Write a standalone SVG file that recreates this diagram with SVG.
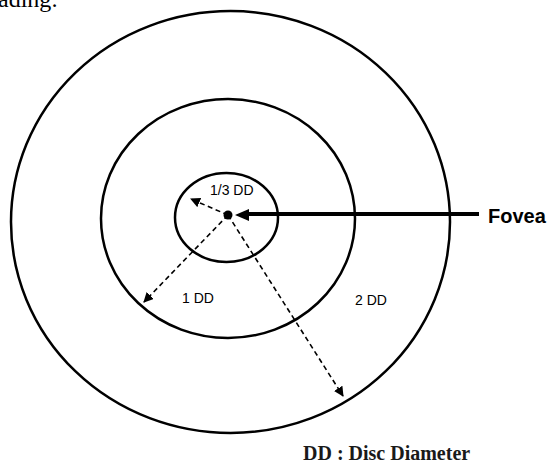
<svg xmlns="http://www.w3.org/2000/svg" width="547" height="465" viewBox="0 0 547 465">
<style>
.ring{fill:none;stroke:#000;stroke-width:2.5}
.dash{fill:none;stroke:#000;stroke-width:1.6;stroke-dasharray:5 3.5}
.lbl{font-family:"Liberation Sans",Arial,sans-serif;font-size:14px;fill:#000}
</style>
<defs>
<marker id="ah" viewBox="0 0 10 10" refX="9" refY="5" markerWidth="10" markerHeight="10" markerUnits="userSpaceOnUse" orient="auto">
<path d="M0,0 L10,5 L0,10 Z" fill="#000"/>
</marker>
</defs>
<rect width="547" height="465" fill="#fff"/>
<text x="-2" y="7" font-family="'Liberation Serif',serif" font-size="24" fill="#000">ading:</text>
<g id="outer"><ellipse class="ring" cx="230.5" cy="222" rx="219.5" ry="211"/></g>
<g id="middle"><ellipse class="ring" cx="228" cy="218.5" rx="127" ry="119.5"/></g>
<g id="inner"><ellipse class="ring" cx="226.5" cy="217.5" rx="51.5" ry="44.5"/></g>
<g id="connectors">
<line class="dash" x1="228" y1="215" x2="191" y2="199" marker-end="url(#ah)"/>
<line class="dash" x1="228" y1="215" x2="144" y2="302" marker-end="url(#ah)"/>
<line class="dash" x1="228" y1="215" x2="343" y2="396" marker-end="url(#ah)"/>
<line x1="479" y1="214" x2="246" y2="214" stroke="#000" stroke-width="4"/>
<path d="M235,215 L249,209 L249,221 Z" fill="#000"/>
</g>
<g id="fovea-dot"><circle cx="228" cy="215" r="4.5" fill="#000"/></g>
<g id="labels">
<text class="lbl" x="210" y="195">1/3 DD</text>
<text class="lbl" x="182" y="303">1 DD</text>
<text class="lbl" x="355" y="305">2 DD</text>
</g>
<g id="fovea-label"><text x="488" y="223" font-family="'Liberation Sans',Arial,sans-serif" font-weight="bold" font-size="20">Fovea</text></g>
<g id="legend"><text x="303" y="460" font-family="'Liberation Serif','Times New Roman',serif" font-weight="bold" font-size="20" fill="#1a1a1a">DD : Disc Diameter</text></g>
</svg>
